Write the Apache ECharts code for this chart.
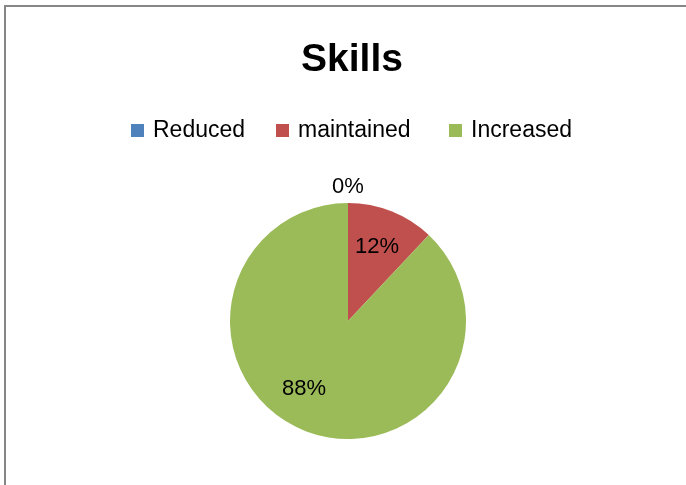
<!DOCTYPE html>
<html>
<head>
<meta charset="utf-8">
<script src="https://cdn.jsdelivr.net/npm/echarts@6/dist/echarts.min.js"></script>
<style>
html,body{margin:0;padding:0;background:#fff;}
#chart{width:686px;height:485px;}
</style>
</head>
<body>
<div id="chart"></div>
<script>
var titleText = 'Skills';
var categories = ['Reduced', 'maintained', 'Increased'];
var values = [0, 3, 22];
var colors = ['#4F81BD', '#C0504D', '#9BBB59'];

var font = 'Liberation Sans';
var legendLefts = [126, 271, 444];
var chart = echarts.init(document.getElementById('chart'));

var mainData = categories.map(function (c, i) {
  return {
    name: c,
    value: values[i],
    itemStyle: { color: colors[i] },
    label: i === 0 ? { show: true, position: 'outside', distanceToLabelLine: 0 } : { show: false },
    labelLine: { show: false, length: 16, length2: 0 }
  };
});
var overlayData = categories.map(function (c, i) {
  return {
    name: c,
    value: values[i],
    label: { show: i !== 0 }
  };
});

var legends = categories.map(function (c, i) {
  return {
    data: [c],
    left: legendLefts[i],
    top: 114,
    icon: 'rect',
    itemWidth: 13,
    itemHeight: 13,
    textStyle: { fontFamily: font, fontSize: 23, color: '#000', padding: [0, 0, 0, 4] },
    selectedMode: false
  };
});

chart.setOption({
  animation: false,
  backgroundColor: '#ffffff',
  title: {
    text: titleText,
    left: 347,
    textAlign: 'center',
    top: 36,
    textStyle: { fontFamily: font, fontWeight: 'bold', fontSize: 39, color: '#000' }
  },
  legend: legends,
  graphic: [{
    type: 'rect',
    silent: true,
    shape: { x: 5, y: 6, width: 720, height: 520 },
    style: { fill: 'none', stroke: '#868686', lineWidth: 2 }
  }],
  series: [{
    type: 'pie',
    center: [348, 321],
    radius: [0, 118],
    startAngle: 90,
    clockwise: true,
    avoidLabelOverlap: false,
    silent: true,
    label: {
      fontFamily: font, fontSize: 22, color: '#000',
      formatter: function (p) { return Math.round(p.percent) + '%'; }
    },
    labelLayout: function (p) {
      if (p.dataIndex === 0) return { align: 'center' };
      return {};
    },
    itemStyle: { borderWidth: 0 },
    emphasis: { disabled: true },
    data: mainData
  }, {
    type: 'pie',
    center: [348, 321],
    radius: [0, 162],
    startAngle: 90,
    clockwise: true,
    avoidLabelOverlap: false,
    silent: true,
    itemStyle: { color: 'rgba(0,0,0,0)', borderWidth: 0 },
    label: {
      position: 'inside',
      fontFamily: font, fontSize: 22, color: '#000',
      formatter: function (p) { return Math.round(p.percent) + '%'; }
    },
    labelLayout: function (p) {
      if (p.dataIndex === 1) return { dx: -2, dy: 4 };
      if (p.dataIndex === 2) return { dx: -13, dy: -10 };
      return {};
    },
    labelLine: { show: false },
    emphasis: { disabled: true },
    data: overlayData
  }]
});
</script>
</body>
</html>
